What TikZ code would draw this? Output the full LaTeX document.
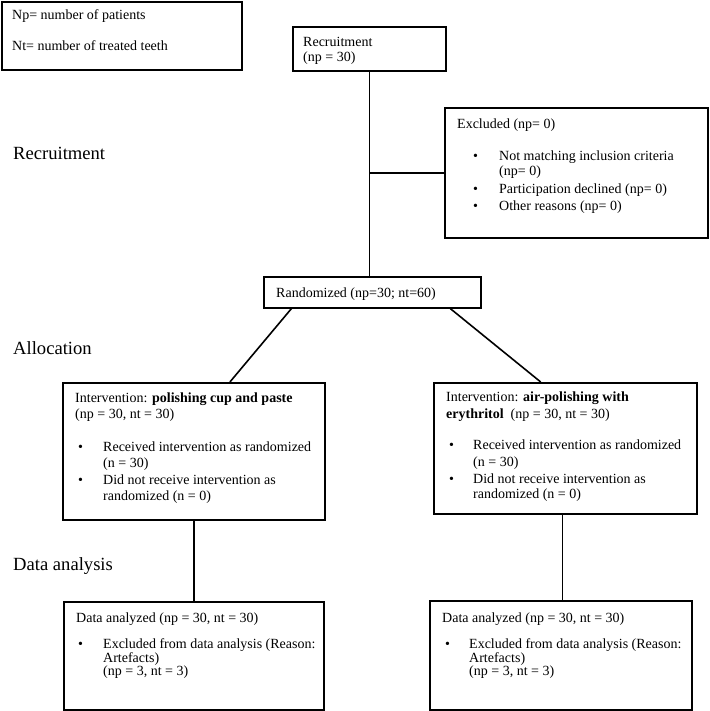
\documentclass[tikz,border=0pt]{standalone}
\usepackage{fontspec}
\setmainfont{Liberation Serif}
\usetikzlibrary{calc}
\begin{document}
\begin{tikzpicture}[x=1pt,y=-1pt,
  box/.style={draw,line width=1.6pt,inner sep=0pt,anchor=north west},
  txt/.style={anchor=base west,inner sep=0pt,font=\fontsize{14}{16}\selectfont},
  sec/.style={anchor=base west,inner sep=0pt,font=\fontsize{18.6}{22}\selectfont},
  conn/.style={line width=1.6pt}]
\useasboundingbox (0,0) rectangle (709,711);
% boxes
\node[box,minimum width=240pt,minimum height=68pt] (legend) at (1,1) {};
\node[box,minimum width=153pt,minimum height=44pt] (rec) at (292,26) {};
\node[box,minimum width=263pt,minimum height=130pt] (exc) at (444,107) {};
\node[box,minimum width=217pt,minimum height=31pt] (rand) at (263,276) {};
\node[box,minimum width=262pt,minimum height=137pt] (ia) at (62,382) {};
\node[box,minimum width=263pt,minimum height=131pt] (ib) at (433,382) {};
\node[box,minimum width=260pt,minimum height=108pt] (da) at (63,601) {};
\node[box,minimum width=262pt,minimum height=109pt] (db) at (429,600) {};
% section labels
\node[sec] (s1) at (13,160) {Recruitment};
\node[sec] (s2) at (13,354) {Allocation};
\node[sec] (s3) at (13,570) {Data analysis};
% legend
\node[txt] (l1) at (12,20) {Np= number of patients};
\node[txt] (l2) at (12,51) {Nt= number of treated teeth};
% recruitment
\node[txt] (r1) at (303,47) {Recruitment};
\node[txt] (r2) at (303,62) {(np = 30)};
% excluded
\node[txt] (e0) at (457,129) {Excluded (np= 0)};
\node[txt] (eb1) at (473,161) {\textbullet};
\node[txt] (eb2) at (473,194) {\textbullet};
\node[txt] (eb3) at (473,211) {\textbullet};
\node[txt] (e1) at (499,161) {Not matching inclusion criteria};
\node[txt] (e2) at (499,176) {(np= 0)};
\node[txt] (e3) at (499,194) {Participation declined (np= 0)};
\node[txt] (e4) at (499,211) {Other reasons (np= 0)};
% randomized
\node[txt] (ra) at (276,297) {Randomized (np=30; nt=60)};
% intervention A
\node[txt] (a0) at (75,402) {Intervention: \textbf{polishing cup and paste}};
\node[txt] (a1) at (75,418) {(np = 30, nt = 30)};
\node[txt] (ab1) at (78,451) {\textbullet};
\node[txt] (ab2) at (78,484) {\textbullet};
\node[txt] (a2) at (103,451) {Received intervention as randomized};
\node[txt] (a3) at (103,467) {(n = 30)};
\node[txt] (a4) at (103,484) {Did not receive intervention as};
\node[txt] (a5) at (103,500) {randomized (n = 0)};
% intervention B
\node[txt] (b0) at (446,401) {Intervention: \textbf{air-polishing with}};
\node[txt] (b1) at (446,418) {\textbf{erythritol}\ \ (np = 30, nt = 30)};
\node[txt] (bb1) at (449,449) {\textbullet};
\node[txt] (bb2) at (449,483) {\textbullet};
\node[txt] (b2) at (473,449) {Received intervention as randomized};
\node[txt] (b3) at (473,466) {(n = 30)};
\node[txt] (b4) at (473,483) {Did not receive intervention as};
\node[txt] (b5) at (473,498) {randomized (n = 0)};
% data analyzed A
\node[txt] (c0) at (76,622) {Data analyzed (np = 30, nt = 30)};
\node[txt] (cb) at (78,648) {\textbullet};
\node[txt] (c1) at (103,648) {Excluded from data analysis (Reason:};
\node[txt] (c2) at (103,662) {Artefacts)};
\node[txt] (c3) at (103,675) {(np = 3, nt = 3)};
% data analyzed B
\node[txt] (d0) at (442,622) {Data analyzed (np = 30, nt = 30)};
\node[txt] (dbul) at (445,648) {\textbullet};
\node[txt] (d1) at (469,648) {Excluded from data analysis (Reason:};
\node[txt] (d2) at (469,662) {Artefacts)};
\node[txt] (d3) at (469,675) {(np = 3, nt = 3)};
% connectors
\coordinate (j) at (rec.south |- exc.west);
\coordinate (bs) at ($(ib.south west)!0.49!(ib.south east)$);
\coordinate (bt) at (bs |- db.north);
\draw[conn] (rec.south) -- (rec.south |- rand.north);
\draw[conn] (j) -- (exc.west);
\draw[conn] ($(rand.south west)!0.13!(rand.south east)$) -- ($(ia.north west)!0.637!(ia.north east)$);
\draw[conn] ($(rand.south west)!0.857!(rand.south east)$) -- ($(ib.north west)!0.407!(ib.north east)$);
\draw[conn] (ia.south) -- (ia.south |- da.north);
\draw[conn] (bs) -- (bt);
\end{tikzpicture}
\end{document}
